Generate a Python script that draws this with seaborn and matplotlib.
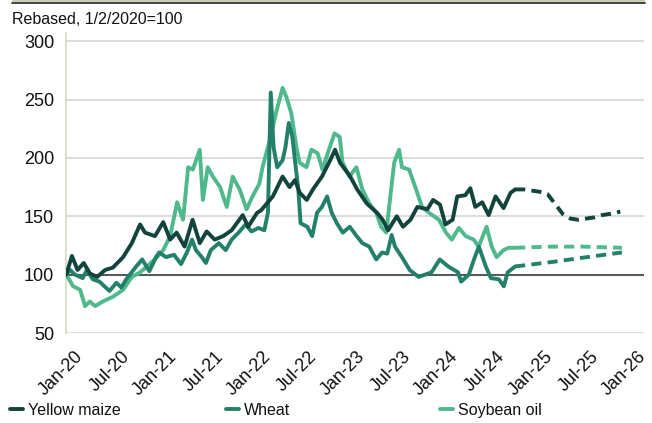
import pandas as pd
import seaborn as sns
import matplotlib.pyplot as plt
import matplotlib.dates as mdates
from matplotlib.lines import Line2D
from matplotlib.transforms import ScaledTranslation

# yellow maize, actual
maize_dates = ["2020-01-02", "2020-01-24", "2020-02-15", "2020-03-10", "2020-04-03", "2020-05-01",
               "2020-06-01", "2020-07-01", "2020-08-10", "2020-09-13", "2020-10-15", "2020-11-03",
               "2020-12-12", "2021-01-13", "2021-02-09", "2021-03-06", "2021-04-06", "2021-05-07",
               "2021-06-04", "2021-07-01", "2021-08-01", "2021-09-03", "2021-10-06", "2021-11-18",
               "2021-12-09", "2022-01-13", "2022-01-28", "2022-03-15", "2022-04-22", "2022-05-19",
               "2022-06-09", "2022-06-28", "2022-07-25", "2022-08-18", "2022-09-22", "2022-10-24",
               "2022-11-12", "2022-12-01", "2023-01-10", "2023-02-06", "2023-03-15", "2023-04-24",
               "2023-05-16", "2023-06-06", "2023-07-10", "2023-08-03", "2023-09-01", "2023-09-28",
               "2023-11-06", "2023-11-28", "2023-12-25", "2024-01-15", "2024-02-12", "2024-03-01",
               "2024-04-01", "2024-04-21", "2024-05-10", "2024-06-06", "2024-07-01", "2024-07-28",
               "2024-08-28", "2024-09-24", "2024-10-12"]
maize_vals = [100, 116, 104, 110, 101, 98,
              104, 106, 115, 127, 143, 136,
              133, 145, 130, 136, 124, 147,
              127, 137, 130, 133, 138, 151,
              141, 153, 155, 167, 184, 175,
              181, 170, 164, 173, 184, 198,
              207, 196, 184, 173, 161, 153,
              147, 138, 150, 141, 147, 158,
              156, 164, 160, 143, 147, 167,
              168, 174, 158, 162, 151, 167,
              157, 170, 173]
maize_fc_dates = ["2024-10-12", "2024-11-15", "2024-12-15", "2025-01-15", "2025-02-15", "2025-03-15",
                  "2025-04-15", "2025-05-15", "2025-06-15", "2025-07-15", "2025-08-15", "2025-09-15",
                  "2025-10-15", "2025-11-25"]
maize_fc_vals = [173, 173, 172, 171, 169, 161, 152, 148, 147, 148, 149, 151, 152, 154]

# wheat, actual
wheat_dates = ["2020-01-02", "2020-01-17", "2020-02-05", "2020-03-06", "2020-03-22", "2020-04-14",
               "2020-05-10", "2020-06-18", "2020-07-15", "2020-08-03", "2020-08-22", "2020-09-30",
               "2020-10-23", "2020-11-20", "2020-12-16", "2020-12-28", "2021-01-24", "2021-02-24",
               "2021-03-23", "2021-04-15", "2021-05-05", "2021-05-20", "2021-06-12", "2021-06-28",
               "2021-07-17", "2021-08-17", "2021-09-13", "2021-10-06", "2021-11-02", "2021-11-29",
               "2021-12-22", "2022-01-18", "2022-02-10", "2022-02-24", "2022-03-07", "2022-03-18",
               "2022-04-01", "2022-04-22", "2022-05-03", "2022-05-16", "2022-05-30", "2022-06-10",
               "2022-06-22", "2022-07-01", "2022-07-27", "2022-08-15", "2022-09-03", "2022-09-22",
               "2022-10-12", "2022-10-30", "2022-11-19", "2022-12-12", "2023-01-08", "2023-02-04",
               "2023-02-26", "2023-03-25", "2023-04-21", "2023-05-14", "2023-06-03", "2023-06-20",
               "2023-07-03", "2023-07-30", "2023-08-29", "2023-10-03", "2023-11-22", "2023-12-24",
               "2024-01-26", "2024-03-04", "2024-03-16", "2024-04-15", "2024-05-05", "2024-05-24",
               "2024-06-20", "2024-07-10", "2024-08-10", "2024-08-29", "2024-09-13", "2024-10-12"]
wheat_vals = [100, 104, 100, 97, 104, 96,
              94, 86, 93, 89, 96, 107,
              113, 103, 115, 119, 115, 117,
              109, 119, 130, 121, 115, 110,
              121, 127, 121, 130, 136, 143,
              137, 140, 138, 153, 256, 209,
              192, 198, 209, 230, 218, 196,
              173, 144, 141, 133, 153, 158,
              167, 153, 144, 136, 141, 133,
              127, 124, 113, 119, 118, 134,
              124, 115, 104, 98, 102, 113,
              107, 102, 94, 100, 113, 124,
              107, 97, 96, 90, 102, 107]
wheat_fc_dates = ["2024-10-12", "2025-03-10", "2025-07-18", "2025-12-01"]
wheat_fc_vals = [107, 111, 115, 119]

# soybean oil, actual
soy_dates = ["2020-01-02", "2020-01-29", "2020-02-25", "2020-03-15", "2020-04-03", "2020-04-23",
             "2020-05-23", "2020-07-01", "2020-08-10", "2020-09-13", "2020-10-15", "2020-11-11",
             "2020-12-20", "2021-01-13", "2021-02-09", "2021-03-08", "2021-03-31", "2021-04-20",
             "2021-05-08", "2021-06-04", "2021-06-16", "2021-07-05", "2021-07-25", "2021-08-22",
             "2021-09-17", "2021-10-10", "2021-11-06", "2021-12-03", "2021-12-26", "2022-01-22",
             "2022-02-03", "2022-03-03", "2022-03-29", "2022-04-22", "2022-05-07", "2022-05-26",
             "2022-06-15", "2022-06-27", "2022-07-24", "2022-08-12", "2022-09-05", "2022-09-24",
             "2022-10-22", "2022-11-10", "2022-11-30", "2022-12-11", "2023-01-07", "2023-02-03",
             "2023-02-26", "2023-03-25", "2023-04-21", "2023-05-10", "2023-05-30", "2023-06-18",
             "2023-06-30", "2023-07-19", "2023-07-30", "2023-08-27", "2023-09-23", "2023-10-16",
             "2023-11-12", "2023-12-21", "2024-01-17", "2024-02-09", "2024-03-07", "2024-04-03",
             "2024-05-04", "2024-05-23", "2024-06-23", "2024-07-13", "2024-08-01", "2024-08-28",
             "2024-09-17", "2024-10-12"]
soy_vals = [100, 90, 87, 73, 77, 73,
            77, 81, 87, 98, 102, 107,
            115, 121, 133, 162, 147, 192,
            190, 207, 164, 192, 184, 175,
            158, 184, 173, 156, 167, 178,
            192, 215, 240, 260, 252, 238,
            209, 196, 192, 207, 204, 190,
            209, 221, 218, 196, 184, 192,
            173, 161, 153, 141, 136, 173,
            196, 207, 192, 190, 173, 158,
            153, 147, 136, 130, 140, 133,
            130, 124, 141, 124, 115, 121,
            123, 123]
soy_fc_dates = ["2024-10-12", "2025-03-01", "2025-07-01", "2025-12-01"]
soy_fc_vals = [123, 124, 124, 123]

series = ["Yellow maize", "Wheat", "Soybean oil"]
colors = ["#12443d", "#23806b", "#4fb98c"]

parts = []
for name, d, v, kind in [
    ("Yellow maize", maize_dates, maize_vals, "actual"),
    ("Yellow maize", maize_fc_dates, maize_fc_vals, "forecast"),
    ("Wheat", wheat_dates, wheat_vals, "actual"),
    ("Wheat", wheat_fc_dates, wheat_fc_vals, "forecast"),
    ("Soybean oil", soy_dates, soy_vals, "actual"),
    ("Soybean oil", soy_fc_dates, soy_fc_vals, "forecast"),
]:
    parts.append(pd.DataFrame({"date": pd.to_datetime(d), "value": v, "series": name, "kind": kind}))
df = pd.concat(parts, ignore_index=True)

sns.set_style("white")
plt.rcParams['font.family'] = ['Liberation Sans', 'DejaVu Sans']

fig = plt.figure(figsize=(6.52, 4.23), dpi=100)
ax = fig.add_axes([66 / 652, 1 - 333 / 423, (644 - 66) / 652, 300 / 423])

# grid lines
for yv in [50, 150, 200, 250, 300]:
    ax.axhline(yv, color="#d9d9d9", lw=1.3, zorder=0)
ax.axhline(100, color="#5a5a5a", lw=1.5, zorder=1)

order = ["Soybean oil", "Wheat", "Yellow maize"]
for name in order:
    sub = df[df.series == name]
    sns.lineplot(data=sub, x="date", y="value", style="kind",
                 dashes={"actual": "", "forecast": (2.6, 1.6)},
                 color=colors[series.index(name)], lw=2.8, estimator=None,
                 sort=False, legend=False, ax=ax, zorder=3)

ax.set_xlim(pd.Timestamp("2020-01-01"), pd.Timestamp("2026-02-25"))
ax.set_ylim(50, 307)
ax.set_yticks([50, 100, 150, 200, 250, 300])
ax.xaxis.set_major_locator(mdates.MonthLocator(bymonth=[1, 7]))
ax.xaxis.set_major_formatter(mdates.DateFormatter("%b-%y"))
ax.set_xlabel("")
ax.set_ylabel("")

for s in ["top", "right", "bottom"]:
    ax.spines[s].set_visible(False)
ax.spines["left"].set_color("#d3dfc1")
ax.spines["left"].set_linewidth(1.3)

ax.tick_params(axis="both", direction="inout", length=11, width=1.1, color="#111111",
               labelsize=13, labelcolor="#111111")
ax.tick_params(axis="y", pad=3)
ax.tick_params(axis="x", pad=2)
shift = ScaledTranslation(0.08, -0.05, fig.dpi_scale_trans)
for lab in ax.get_xticklabels():
    lab.set_rotation(45)
    lab.set_ha("right")
    lab.set_va("top")
    lab.set_rotation_mode("anchor")
    lab.set_transform(lab.get_transform() + shift)

# top rule
fig.add_artist(plt.Rectangle((12 / 652, 1 - 2.5 / 423), 633 / 652, 2.5 / 423,
                             transform=fig.transFigure, color="#c5d1ae", lw=0))
fig.add_artist(Line2D([12 / 652, 645 / 652], [1 - 3.2 / 423, 1 - 3.2 / 423],
                      transform=fig.transFigure, color="#222222", lw=1.2))

fig.text(12 / 652, 1 - 24 / 423, "Rebased, 1/2/2020=100", fontsize=11.5,
         color="#111111", va="baseline", ha="left")

# legend entries
leg_x = [10 / 652, 226 / 652, 440 / 652]
for name, xx in zip(series, leg_x):
    h = Line2D([], [], color=colors[series.index(name)], lw=2.8)
    fig.legend([h], [name], loc="center left", bbox_to_anchor=(xx, 1 - 410 / 423),
               frameon=False, fontsize=11.5, handlelength=0.8, handletextpad=0.3,
               borderpad=0, borderaxespad=0, labelcolor="#111111")

fig.savefig("out.png", dpi=100)
